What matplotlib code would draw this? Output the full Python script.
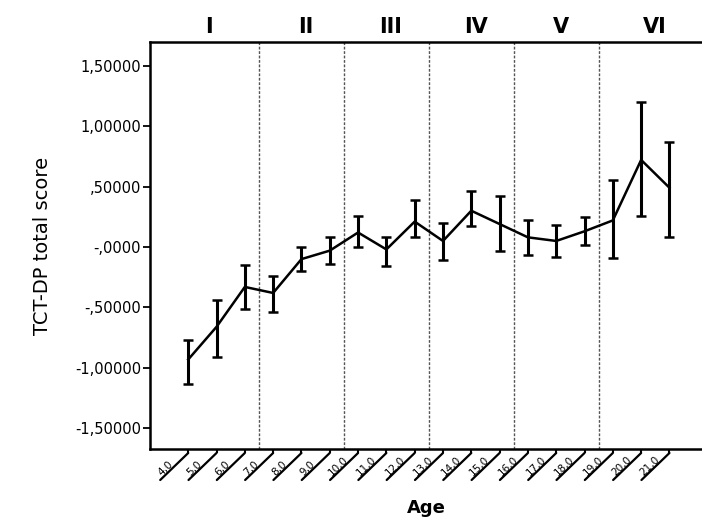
import matplotlib
matplotlib.use("Agg")
import matplotlib.pyplot as plt
import matplotlib.transforms as mtransforms
import numpy as np

# age groups and scores
ages = [4, 5, 6, 7, 8, 9, 10, 11, 12, 13, 14, 15, 16, 17, 18, 19, 20, 21]
age_labels = ["4,0", "5,0", "6,0", "7,0", "8,0", "9,0", "10,0", "11,0", "12,0",
              "13,0", "14,0", "15,0", "16,0", "17,0", "18,0", "19,0", "20,0", "21,0"]
means = [-0.93, -0.66, -0.33, -0.38, -0.10, -0.03, 0.12, -0.02, 0.21,
         0.05, 0.30, 0.19, 0.08, 0.05, 0.13, 0.22, 0.72, 0.49]
lower = [-1.13, -0.91, -0.51, -0.54, -0.20, -0.14, 0.00, -0.16, 0.08,
         -0.11, 0.17, -0.03, -0.07, -0.08, 0.02, -0.09, 0.26, 0.08]
upper = [-0.77, -0.44, -0.15, -0.24, 0.00, 0.085, 0.26, 0.085, 0.39,
         0.20, 0.46, 0.42, 0.22, 0.18, 0.25, 0.55, 1.20, 0.87]

groups = ["I", "II", "III", "IV", "V", "VI"]
group_ages = [[4, 5, 6], [7, 8, 9], [10, 11, 12], [13, 14, 15], [16, 17, 18], [19, 20, 21]]

ytick_vals = [1.5, 1.0, 0.5, 0.0, -0.5, -1.0, -1.5]
ytick_labels = ["1,50000", "1,00000", ",50000", "-,0000", "-,50000", "-1,00000", "-1,50000"]

fig = plt.figure(figsize=(7.02, 5.20), dpi=100)
ax = fig.add_axes([150 / 702, 1 - 449 / 520, 552 / 702, 407 / 520])

m = np.array(means)
yerr = [m - np.array(lower), np.array(upper) - m]
ax.errorbar(ages, means, yerr=yerr, color="black", lw=1.8, elinewidth=2.2,
            capsize=3.5, capthick=1.8)

ax.set_xlim(2.65, 22.15)
ax.set_ylim(-1.67, 1.695)

# group dividers
bounds = [(g[-1] + n[0]) / 2 for g, n in zip(group_ages[:-1], group_ages[1:])]
for b in bounds:
    ax.axvline(b, color="#555555", lw=1.0, ls=(0, (2, 1.2)), zorder=0)

edges = [ax.get_xlim()[0]] + bounds + [ax.get_xlim()[1]]
xt = ax.get_xaxis_transform()
for i, g in enumerate(groups):
    ax.text((edges[i] + edges[i + 1]) / 2 + 0.15, 1.037, g, transform=xt, ha="center",
            va="center", fontsize=15, fontweight="bold")

ax.set_yticks(ytick_vals)
ax.set_yticklabels(ytick_labels)
ax.tick_params(axis="y", length=5, width=1.3, pad=1.5, labelsize=10.5)

ax.set_xticks(ages)
ax.tick_params(axis="x", length=3, width=1.5, labelbottom=False)

# slanted tick labels: leader line runs down-left, label starts at its lower end
base = xt + mtransforms.ScaledTranslation(0, -4 / 100, fig.dpi_scale_trans)
for a, lab in zip(ages, age_labels):
    ax.annotate("", xy=(a, 0), xycoords=base, xytext=(-28, -27),
                textcoords="offset pixels", annotation_clip=False,
                arrowprops=dict(arrowstyle="-", lw=1.6, color="black",
                                shrinkA=0, shrinkB=0))
    ax.annotate(lab, xy=(a, 0), xycoords=base, xytext=(-26, -23),
                textcoords="offset pixels", rotation=44, ha="left", va="baseline",
                rotation_mode="anchor", fontsize=7.5, annotation_clip=False)

for s in ["left", "bottom", "top"]:
    ax.spines[s].set_linewidth(1.8)
ax.spines["right"].set_visible(False)

ax.set_ylabel("TCT-DP total score", fontsize=14)
ax.yaxis.set_label_coords(-0.1775, 0.5)
ax.set_xlabel("Age", fontsize=13, fontweight="bold", va="top")
ax.xaxis.set_label_coords(0.5, -0.124)

fig.savefig("out.png", dpi=100)
